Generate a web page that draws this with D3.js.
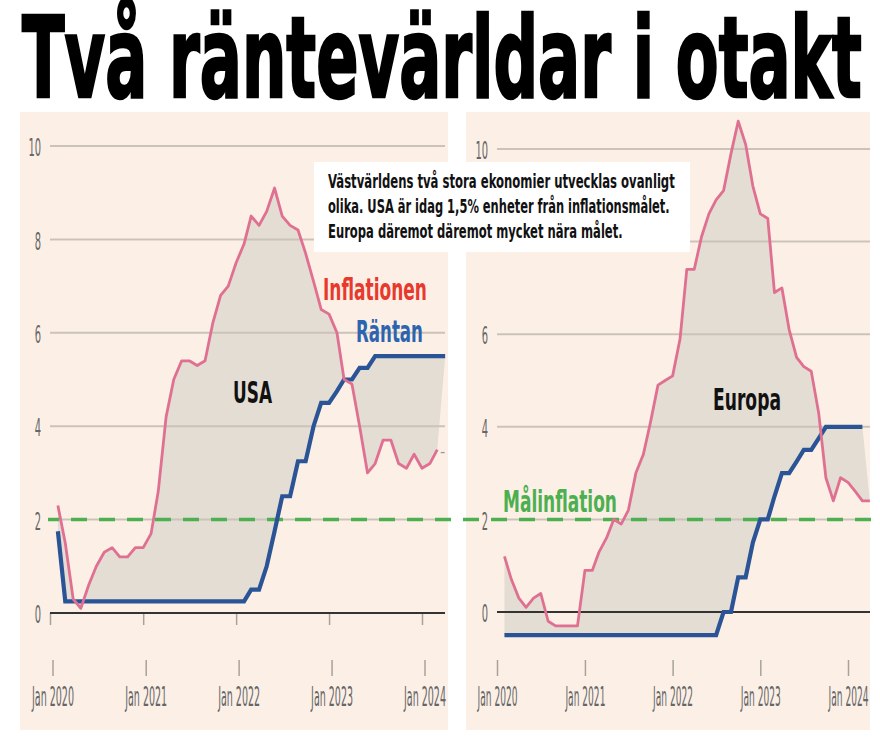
<!DOCTYPE html>
<html>
<head>
<meta charset="utf-8">
<script src="https://cdn.jsdelivr.net/npm/d3@7"></script>
<style>
  html, body { margin: 0; padding: 0; background: #fff; }
  svg { display: block; }
  text { font-family: "Liberation Sans Narrow", "Arial Narrow", "DejaVu Sans Condensed", sans-serif; }
</style>
</head>
<body>
<div id="chart"></div>
<script>
"use strict";

//----------------------------DATA------------------------------//
// monthly series, first value = Feb 2020
const firstMonth = new Date(2020, 1, 1);
const yearTicks = [new Date(2020, 0, 1), new Date(2021, 0, 1), new Date(2022, 0, 1), new Date(2023, 0, 1), new Date(2024, 0, 1)];
const yTicks = [0, 2, 4, 6, 8, 10];
const inflationTarget = 2;

// USA: KPI (Feb 2020 - Mar 2024) och styrränta (Feb 2020 - Apr 2024)
const usInflation = [
    2.3, 1.5, 0.3, 0.1, 0.6, 1.0, 1.3, 1.4, 1.2, 1.2, 1.4,
    1.4, 1.7, 2.6, 4.2, 5.0, 5.4, 5.4, 5.3, 5.4, 6.2, 6.8, 7.0,
    7.5, 7.9, 8.5, 8.3, 8.6, 9.1, 8.5, 8.3, 8.2, 7.7, 7.1, 6.5,
    6.4, 6.0, 5.0, 4.9, 4.0, 3.0, 3.2, 3.7, 3.7, 3.2, 3.1, 3.4,
    3.1, 3.2, 3.5
];
const usRate = [
    1.75, 0.25, 0.25, 0.25, 0.25, 0.25, 0.25, 0.25, 0.25, 0.25, 0.25,
    0.25, 0.25, 0.25, 0.25, 0.25, 0.25, 0.25, 0.25, 0.25, 0.25, 0.25, 0.25,
    0.25, 0.25, 0.5, 0.5, 1.0, 1.75, 2.5, 2.5, 3.25, 3.25, 4.0, 4.5,
    4.5, 4.75, 5.0, 5.0, 5.25, 5.25, 5.5, 5.5, 5.5, 5.5, 5.5, 5.5,
    5.5, 5.5, 5.5, 5.5
];

// Europa: HIKP (Feb 2020 - Apr 2024) och inlåningsränta (Feb 2020 - Mar 2024)
const euInflation = [
    1.2, 0.7, 0.3, 0.1, 0.3, 0.4, -0.2, -0.3, -0.3, -0.3, -0.3,
    0.9, 0.9, 1.3, 1.6, 2.0, 1.9, 2.2, 3.0, 3.4, 4.1, 4.9, 5.0,
    5.1, 5.9, 7.4, 7.4, 8.1, 8.6, 8.9, 9.1, 9.9, 10.6, 10.1, 9.2,
    8.6, 8.5, 6.9, 7.0, 6.1, 5.5, 5.3, 5.2, 4.3, 2.9, 2.4, 2.9,
    2.8, 2.6, 2.4, 2.4
];
const euRate = [
    -0.5, -0.5, -0.5, -0.5, -0.5, -0.5, -0.5, -0.5, -0.5, -0.5, -0.5,
    -0.5, -0.5, -0.5, -0.5, -0.5, -0.5, -0.5, -0.5, -0.5, -0.5, -0.5, -0.5,
    -0.5, -0.5, -0.5, -0.5, -0.5, -0.5, -0.5, 0, 0, 0.75, 0.75, 1.5,
    2.0, 2.0, 2.5, 3.0, 3.0, 3.25, 3.5, 3.5, 3.75, 4.0, 4.0, 4.0,
    4.0, 4.0, 4.0
];

const title = "Två räntevärldar i otakt";
const noteLines = [
    "Västvärldens två stora ekonomier utvecklas ovanligt",
    "olika. USA är idag 1,5% enheter från inflationsmålet.",
    "Europa däremot däremot mycket nära målet."
];

//---------------------------STYLES-----------------------------//
const colors = {
    bg: "#fcf0e6",
    fill: "#e3ddd4",
    grid: "#cbc3b9",
    zero: "#333",
    tick: "#a8a29b",
    label: "#666",
    inflation: "#e07091",
    rate: "#2a5496",
    target: "#4caf50",
    red: "#e8392d",
    blue: "#2d64af"
};

const W = 880, H = 738;
const svg = d3.select("#chart").append("svg")
    .attr("width", W)
    .attr("height", H);

// layers so the target line sits between fills and series lines
const bgLayer = svg.append("g");
const targetLayer = svg.append("g");
const lineLayer = svg.append("g");
const textLayer = svg.append("g");

const monthsFor = n => d3.timeMonth.range(firstMonth, d3.timeMonth.offset(firstMonth, n));

// squeeze a text horizontally to a given width (the fonts here are wider than the original's)
const squeeze = (sel, width) => sel.each(function (d, i) {
    const el = d3.select(this);
    const w = typeof width === "function" ? width(d, i) : width;
    const x = +el.attr("x") || 0;
    const y = +el.attr("y") || 0;
    const s = w / this.getComputedTextLength();
    el.attr("x", 0).attr("y", 0)
        .attr("transform", `translate(${x},${y}) scale(${s},1)`);
});

//---------------------------PANEL------------------------------//
const panel = (id, opts) => {
    const x = d3.scaleTime().domain([yearTicks[0], yearTicks[4]]).range(opts.xRange);
    const y = d3.scaleLinear().domain([0, 10]).range(opts.yRange);

    const clipId = "clip-" + id;
    svg.append("defs").append("clipPath").attr("id", clipId)
        .append("rect")
        .attr("x", opts.bg[0]).attr("y", 112)
        .attr("width", opts.bg[1] - opts.bg[0]).attr("height", 618);

    const g = bgLayer.append("g");
    g.append("rect")
        .attr("x", opts.bg[0]).attr("y", 112)
        .attr("width", opts.bg[1] - opts.bg[0]).attr("height", 618)
        .attr("fill", colors.bg);

    // area between inflation and rate (closed polygon, inflation forward, rate back)
    const infPts = monthsFor(opts.inflation.length).map((d, i) => [x(d), y(opts.inflation[i])]);
    const ratePts = monthsFor(opts.rate.length).map((d, i) => [x(d), y(opts.rate[i])]);
    g.append("path")
        .attr("d", d3.line()(infPts.concat(ratePts.slice().reverse())) + "Z")
        .attr("fill", colors.fill);

    // gridlines
    g.selectAll("line.grid")
        .data(yTicks.filter(v => v > 0))
        .join("line")
        .attr("class", "grid")
        .attr("x1", opts.gridX[0]).attr("x2", opts.gridX[1])
        .attr("y1", d => y(d)).attr("y2", d => y(d))
        .attr("stroke", colors.grid)
        .attr("stroke-width", 2);

    // ticks hanging from the zero line (only USA panel)
    if (opts.zeroTicks) {
        const zt = g.append("g")
            .attr("transform", `translate(0,${y(0)})`)
            .call(d3.axisBottom(x).tickValues(yearTicks).tickSize(12).tickFormat(""));
        zt.select(".domain").remove();
        zt.selectAll(".tick line").attr("stroke", colors.tick).attr("stroke-width", 1.5);
    }

    g.append("line")
        .attr("x1", opts.gridX[0]).attr("x2", opts.gridX[1])
        .attr("y1", y(0)).attr("y2", y(0))
        .attr("stroke", colors.zero)
        .attr("stroke-width", 2);

    // y labels
    const ya = g.append("g")
        .attr("transform", `translate(${opts.yLabelX},0)`)
        .call(d3.axisLeft(y).tickValues(yTicks).tickSize(0).tickPadding(0));
    ya.select(".domain").remove();
    ya.selectAll(".tick text")
        .attr("font-size", 24)
        .attr("fill", colors.label)
        .attr("y", 2)
        .call(squeeze, d => String(d).length * 6.3);

    // lower time axis
    const xa = g.append("g")
        .attr("transform", `translate(${opts.axisShift},660)`)
        .call(d3.axisBottom(x).tickValues(yearTicks).tickSize(16).tickFormat(d3.timeFormat("%b %Y")));
    xa.select(".domain").remove();
    xa.selectAll(".tick line").attr("stroke", colors.tick).attr("stroke-width", 1.5);
    xa.selectAll(".tick text")
        .attr("font-size", 26)
        .attr("fill", colors.label)
        .attr("y", 46)
        .attr("dy", 0)
        .call(squeeze, opts.dateWidth);

    // series
    const lg = lineLayer.append("g").attr("clip-path", `url(#${clipId})`);
    lg.append("path")
        .attr("d", d3.line()(ratePts))
        .attr("fill", "none")
        .attr("stroke", colors.rate)
        .attr("stroke-width", 4.2);
    lg.append("path")
        .attr("d", d3.line()(infPts))
        .attr("fill", "none")
        .attr("stroke", colors.inflation)
        .attr("stroke-width", 2.8)
        .attr("stroke-linejoin", "round");

    return { x, y, g: lg };
};

const us = panel("us", {
    bg: [20, 448],
    xRange: [50, 422],
    yRange: [613, 146],
    gridX: [50, 445],
    yLabelX: 41,
    axisShift: 2.5,
    dateWidth: 42,
    zeroTicks: true,
    inflation: usInflation,
    rate: usRate
});

const eu = panel("eu", {
    bg: [466, 870],
    xRange: [497, 848],
    yRange: [612, 149],
    gridX: [497, 870],
    yLabelX: 488,
    axisShift: 0,
    dateWidth: 40,
    zeroTicks: false,
    inflation: euInflation,
    rate: euRate
});

// cut-off value label at the right edge of the USA panel
us.g.append("text")
    .attr("x", 440).attr("y", 457)
    .attr("font-size", 16)
    .attr("fill", "#999")
    .text("- 3,5");

//------------------------TARGET LINE---------------------------//
targetLayer.append("line")
    .attr("x1", 48).attr("x2", 872)
    .attr("y1", us.y(inflationTarget)).attr("y2", us.y(inflationTarget))
    .attr("stroke", colors.target)
    .attr("stroke-width", 3.5)
    .attr("stroke-dasharray", "16,12")
    .attr("stroke-dashoffset", 5);

//---------------------------TEXTS------------------------------//
textLayer.append("text")
    .attr("x", 22).attr("y", 97)
    .attr("font-size", 112)
    .attr("font-weight", "bold")
    .attr("fill", "#000")
    .attr("stroke", "#000")
    .attr("stroke-width", 2.5)
    .text(title)
    .call(squeeze, 840);

// note box
textLayer.append("rect")
    .attr("x", 314).attr("y", 162)
    .attr("width", 376).attr("height", 90)
    .attr("fill", "#fff");
const noteLengths = [347, 342, 295];
textLayer.selectAll("text.note")
    .data(noteLines)
    .join("text")
    .attr("class", "note")
    .attr("x", 328)
    .attr("y", (d, i) => 188 + i * 25)
    .attr("font-size", 20)
    .attr("font-weight", "bold")
    .attr("fill", "#111")
    .text(d => d)
    .call(squeeze, (d, i) => noteLengths[i]);

const labels = [
    { text: "Inflationen", x: 323, y: 300, len: 104, color: colors.red },
    { text: "Räntan", x: 356, y: 342, len: 67, color: colors.blue },
    { text: "USA", x: 233, y: 403, len: 39, color: "#111" },
    { text: "Europa", x: 713, y: 410, len: 68, color: "#111" },
    { text: "Målinflation", x: 503, y: 512, len: 114, color: colors.target }
];
textLayer.selectAll("text.label")
    .data(labels)
    .join("text")
    .attr("class", "label")
    .attr("x", d => d.x)
    .attr("y", d => d.y)
    .attr("font-size", 30)
    .attr("font-weight", "bold")
    .attr("fill", d => d.color)
    .text(d => d.text)
    .call(squeeze, d => d.len);
</script>
</body>
</html>
